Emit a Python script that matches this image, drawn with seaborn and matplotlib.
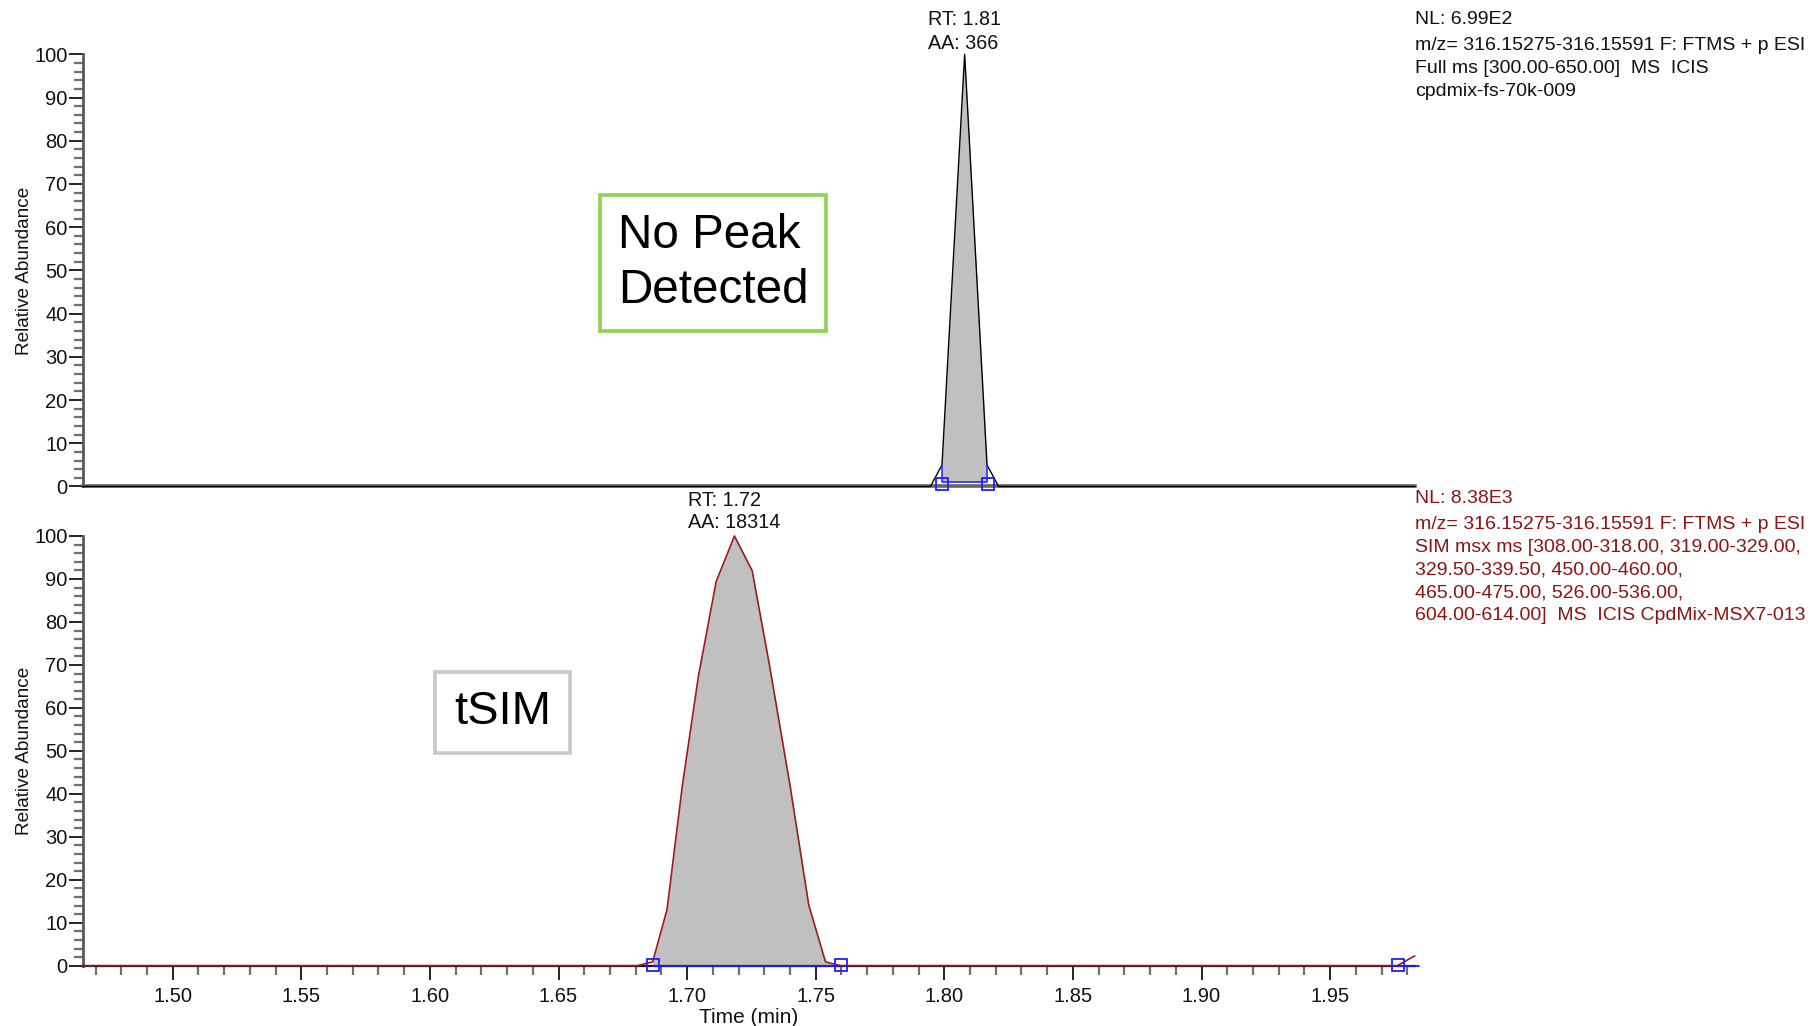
import numpy as np
import pandas as pd
import matplotlib
matplotlib.use("Agg")
import matplotlib.pyplot as plt
import seaborn as sns
from matplotlib.ticker import MultipleLocator, FixedLocator

# ---------------- data ----------------
# Full scan trace (top panel)
fs_time = [1.465, 1.7946, 1.7991, 1.8079, 1.8166, 1.8211, 1.983]
fs_int = [0, 0, 5, 100, 5, 0, 0]
fs_peak_bounds = [1.7991, 1.8166]
fs_base_level = 1.0
fs_marker_time = [1.7991, 1.8170]
fs_marker_int = [0.65, 0.65]
fs_rt_label = "RT: 1.81"
fs_aa_label = "AA: 366"
fs_info_nl = "NL: 6.99E2"
fs_info = ["m/z= 316.15275-316.15591 F: FTMS + p ESI",
           "Full ms [300.00-650.00]  MS  ICIS",
           "cpdmix-fs-70k-009"]

# tSIM trace (bottom panel)
sim_time = [1.465, 1.6806, 1.6866, 1.6922, 1.6981, 1.7044, 1.7113, 1.7184,
            1.7253, 1.7320, 1.7400, 1.7473, 1.7538, 1.7596, 1.9761, 1.9829]
sim_int = [0, 0, 0.9, 13.1, 41.7, 67.4, 89.4, 100,
           91.9, 70.0, 42.0, 14.1, 0.9, 0, 0, 2.3]
sim_peak_bounds = [1.6866, 1.7596]
sim_base_level = 0.0
sim_marker_time = [1.6869, 1.7599, 1.9762]
sim_marker_int = [0.2, 0.2, 0.2]
sim_next_base = [1.9761, 1.9845]
sim_rt_label = "RT: 1.72"
sim_aa_label = "AA: 18314"
sim_info_nl = "NL: 8.38E3"
sim_info = ["m/z= 316.15275-316.15591 F: FTMS + p ESI",
            "SIM msx ms [308.00-318.00, 319.00-329.00,",
            "329.50-339.50, 450.00-460.00,",
            "465.00-475.00, 526.00-536.00,",
            "604.00-614.00]  MS  ICIS CpdMix-MSX7-013"]

x_limits = [1.465, 1.983]
x_major_ticks = [1.50, 1.55, 1.60, 1.65, 1.70, 1.75, 1.80, 1.85, 1.90, 1.95]
y_major_ticks = [0, 10, 20, 30, 40, 50, 60, 70, 80, 90, 100]
box_top_text = "No Peak\nDetected"
box_bottom_text = "tSIM"

# ---------------- style ----------------
sns.set_theme(style="ticks")
plt.rcParams['font.family'] = ['Liberation Sans', 'DejaVu Sans']

W, H = 1812, 1026
fig = plt.figure(figsize=(W / 100, H / 100), dpi=100)

left = 82.7 / W
width = (1415 - 82.7) / W
ax_top = fig.add_axes([left, 1 - 486.5 / H, width, (486.5 - 54.3) / H])
ax_bot = fig.add_axes([left, 1 - 965.7 / H, width, (965.7 - 536) / H])

FILL = '#c0c0c0'
BLUE = '#1f1fff'
RED = '#9a1c1c'
TXTRED = '#8c1414'
TICKFS = 14.5


def style_axes(ax, show_x):
    ax.set_xlim(*x_limits)
    ax.set_ylim(0, 100)
    for s in ['top', 'right']:
        ax.spines[s].set_visible(False)
    ax.spines['left'].set_color('#5a5a5a')
    ax.spines['left'].set_linewidth(2.0)
    ax.yaxis.set_major_locator(FixedLocator(y_major_ticks))
    ax.yaxis.set_minor_locator(MultipleLocator(2))
    ax.tick_params(axis='y', which='major', length=10, width=1.4, color='#222222',
                   pad=1, labelsize=TICKFS, labelcolor='#111111', direction='out')
    ax.tick_params(axis='y', which='minor', length=6.5, width=1.6, color='#707070',
                   direction='out')
    ax.set_ylabel("Relative Abundance", fontsize=13.7, labelpad=0.5, color='#111111')
    if show_x:
        ax.xaxis.set_major_locator(FixedLocator(x_major_ticks))
        ax.xaxis.set_minor_locator(MultipleLocator(0.01))
        ax.set_xticklabels([f"{v:.2f}" for v in x_major_ticks])
        ax.tick_params(axis='x', which='major', length=10, width=1.4, color='#222222',
                       pad=5, labelsize=TICKFS, labelcolor='#111111', direction='out')
        ax.tick_params(axis='x', which='minor', length=6.5, width=1.6, color='#707070',
                       direction='out')
        ax.spines['bottom'].set_color('#111111')
        ax.spines['bottom'].set_linewidth(1.6)
        ax.set_xlabel("Time (min)", fontsize=15, labelpad=1.5, color='#111111')
    else:
        ax.tick_params(axis='x', which='both', bottom=False, labelbottom=False)
        ax.spines['bottom'].set_color('#666666')
        ax.spines['bottom'].set_linewidth(2.6)
        ax.set_xlabel("")


# ---------------- top panel ----------------
top_df = pd.DataFrame({"time": fs_time, "intensity": fs_int})
t = np.array(fs_time)
y = np.array(fs_int, dtype=float)
m = (t >= fs_peak_bounds[0] - 1e-9) & (t <= fs_peak_bounds[1] + 1e-9)
ax_top.fill_between(t[m], y[m], fs_base_level, color=FILL, lw=0, zorder=1)
sns.lineplot(data=top_df, x="time", y="intensity", ax=ax_top, color='black',
             lw=1.0, sort=False, estimator=None, zorder=3)
yb0 = np.interp(fs_peak_bounds[0], t, y)
yb1 = np.interp(fs_peak_bounds[1], t, y)
ax_top.plot([fs_peak_bounds[0], fs_peak_bounds[0], fs_peak_bounds[1], fs_peak_bounds[1]],
            [yb0, fs_base_level, fs_base_level, yb1], color=BLUE, lw=1.1, zorder=4)
ax_top.plot(fs_marker_time, fs_marker_int, ls='none', marker='s', ms=8.5, mfc='none',
            mec=BLUE, mew=1.3, zorder=5)
style_axes(ax_top, show_x=False)
ia = int(np.argmax(y))
ax_top.annotate(fs_rt_label + "\n" + fs_aa_label, xy=(t[ia], y[ia]), xytext=(0, 0.6),
                textcoords='offset points', ha='center', va='bottom', multialignment='left',
                fontsize=14.2, linespacing=1.36, color='#111111', annotation_clip=False)

# ---------------- bottom panel ----------------
bot_df = pd.DataFrame({"time": sim_time, "intensity": sim_int})
t2 = np.array(sim_time)
y2 = np.array(sim_int, dtype=float)
m2 = (t2 >= sim_peak_bounds[0] - 1e-9) & (t2 <= sim_peak_bounds[1] + 1e-9)
ax_bot.fill_between(t2[m2], y2[m2], sim_base_level, color=FILL, lw=0, zorder=1)
ax_bot.plot([sim_peak_bounds[0], sim_peak_bounds[1]], [sim_base_level, sim_base_level],
            color=BLUE, lw=1.3, zorder=4, clip_on=False)
ax_bot.plot(sim_next_base, [sim_base_level, sim_base_level], color=BLUE, lw=1.3,
            zorder=4, clip_on=False)
sns.lineplot(data=bot_df, x="time", y="intensity", ax=ax_bot, color=RED,
             lw=1.2, sort=False, estimator=None, zorder=3)
ax_bot.plot(sim_marker_time, sim_marker_int, ls='none', marker='s', ms=8.5, mfc='none',
            mec=BLUE, mew=1.3, zorder=5, clip_on=False)
style_axes(ax_bot, show_x=True)
ib = int(np.argmax(y2))
ax_bot.annotate(sim_rt_label + "\n" + sim_aa_label, xy=(t2[ib], y2[ib]), xytext=(0, 3),
                textcoords='offset points', ha='center', va='bottom', multialignment='left',
                fontsize=14.2, linespacing=1.2, color='#111111', annotation_clip=False)

for ax in (ax_top, ax_bot):
    for ln in ax.lines:
        ln.set_clip_on(False)

# ---------------- side text ----------------
tx = 1415 / W
SIDEFS = 14
fig.text(tx, 1 - 19.6 / H, fs_info_nl, fontsize=SIDEFS, va='center', ha='left', color='#111111')
for i, line in enumerate(fs_info):
    fig.text(tx, 1 - (45.1 + i * 23.1) / H, line, fontsize=SIDEFS, va='center',
             ha='left', color='#111111')
fig.text(tx, 1 - 498.1 / H, sim_info_nl, fontsize=SIDEFS, va='center', ha='left', color=TXTRED)
for i, line in enumerate(sim_info):
    fig.text(tx, 1 - (524.6 + i * 22.8) / H, line, fontsize=SIDEFS, va='center',
             ha='left', color=TXTRED)

# ---------------- boxed labels ----------------
fig.text(713 / W, 1 - 263 / H, box_top_text, fontsize=34.3, ha='center', va='center',
         multialignment='left', linespacing=1.31, color='black',
         bbox=dict(boxstyle='square,pad=0.37', fc='white', ec='#92d050', lw=2.6))
fig.text(502.5 / W, 1 - 712.5 / H, box_bottom_text, fontsize=34, ha='center', va='center',
         color='black',
         bbox=dict(boxstyle='square,pad=0.4', fc='white', ec='#c8c8c8', lw=2.6))

fig.savefig("out.png", dpi=100)
